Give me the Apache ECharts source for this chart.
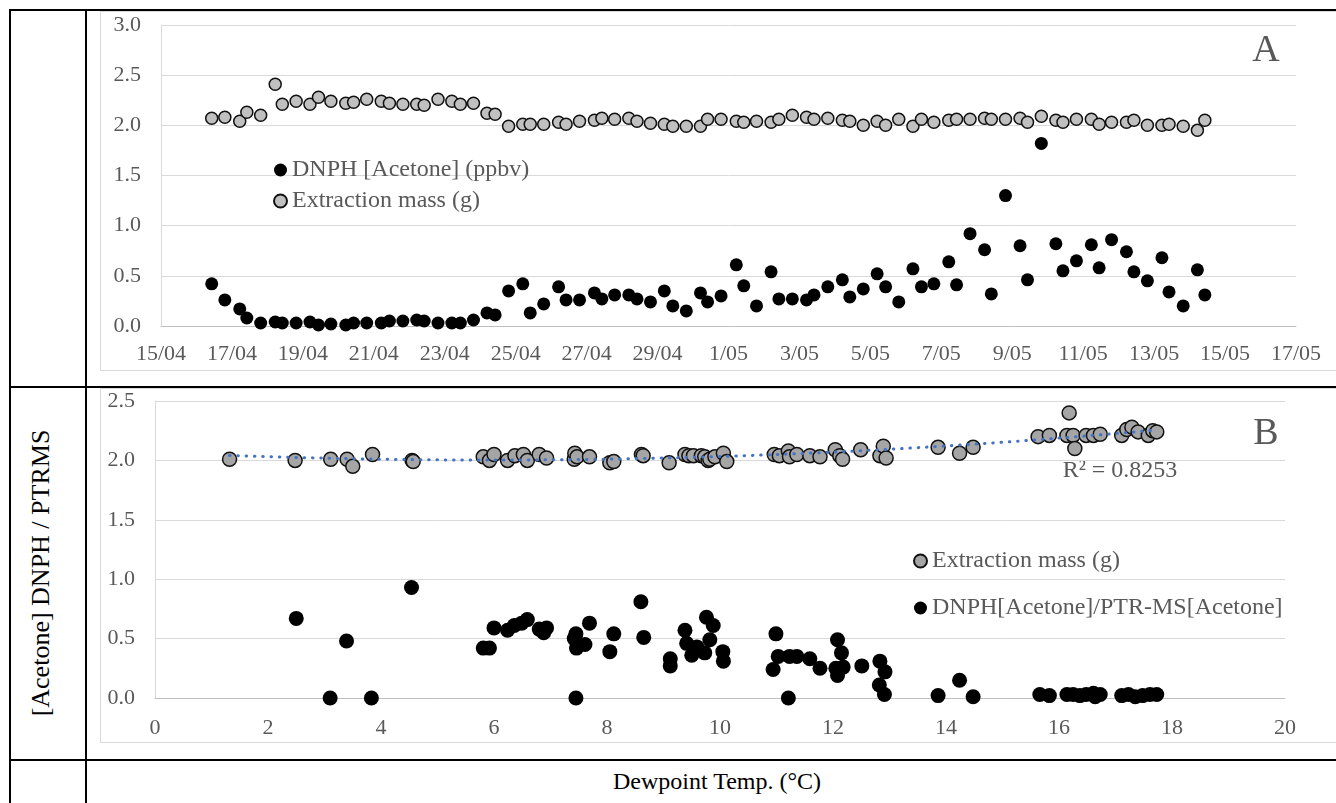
<!DOCTYPE html>
<html><head><meta charset="utf-8">
<script src="https://cdn.jsdelivr.net/npm/echarts@6/dist/echarts.min.js"></script>
<style>
html,body{margin:0;padding:0;width:1336px;height:803px;overflow:hidden;background:#fff;font-family:'Liberation Serif',serif;}
.ln{position:absolute;background:#000;}
.box{position:absolute;border:1px solid #d9d9d9;box-sizing:border-box;}
.chart{position:absolute;}
#ylab{position:absolute;left:41px;top:573px;transform:translate(-50%,-50%) rotate(-90deg);white-space:nowrap;font-size:26px;color:#000;}
#xlab{position:absolute;left:717px;top:781px;transform:translate(-50%,-50%);white-space:nowrap;font-size:24px;color:#000;}
</style></head><body>
<div class="box" style="left:100px;top:11px;width:1240px;height:360px"></div>
<div class="box" style="left:100px;top:388px;width:1240px;height:355px"></div>
<div id="chartA" class="chart" style="left:100px;top:11px;width:1236px;height:360px"></div>
<div id="chartB" class="chart" style="left:100px;top:388px;width:1236px;height:355px"></div>
<div class="ln" style="left:9px;top:9px;width:1327px;height:2px"></div>
<div class="ln" style="left:9px;top:386px;width:1327px;height:2px"></div>
<div class="ln" style="left:9px;top:759px;width:1327px;height:2px"></div>
<div class="ln" style="left:9px;top:9px;width:2px;height:794px"></div>
<div class="ln" style="left:85px;top:9px;width:2px;height:794px"></div>
<div id="ylab">[Acetone] DNPH / PTRMS</div>
<div id="xlab">Dewpoint Temp. (°C)</div>
<script>
// ---------- Panel A: time series (x = days since 15/04) ----------
const dateTicks = ['15/04','17/04','19/04','21/04','23/04','25/04','27/04','29/04','1/05','3/05','5/05','7/05','9/05','11/05','13/05','15/05','17/05'];
const sampleDay = [1.43,1.80,2.22,2.42,2.81,3.22,3.42,3.81,4.20,4.44,4.79,5.21,5.43,5.80,6.21,6.44,6.82,7.21,7.42,7.81,8.20,8.44,8.81,9.19,9.42,9.80,10.20,10.41,10.79,11.21,11.42,11.80,12.22,12.43,12.79,13.19,13.42,13.80,14.19,14.43,14.81,15.21,15.41,15.79,16.22,16.43,16.79,17.20,17.42,17.80,18.20,18.41,18.80,19.21,19.42,19.80,20.19,20.43,20.80,21.20,21.44,21.79,22.21,22.43,22.81,23.22,23.41,23.81,24.22,24.43,24.82,25.23,25.43,25.81,26.23,26.45,26.80,27.22,27.43,27.81,28.22,28.42,28.82,29.22,29.43];
const dnphAcetone = [0.42,0.26,0.17,0.08,0.03,0.04,0.03,0.03,0.04,0.01,0.02,0.01,0.03,0.03,0.03,0.05,0.05,0.06,0.05,0.03,0.03,0.03,0.06,0.13,0.11,0.35,0.42,0.13,0.22,0.39,0.26,0.26,0.33,0.27,0.31,0.31,0.27,0.24,0.35,0.20,0.15,0.33,0.24,0.30,0.61,0.40,0.20,0.54,0.27,0.27,0.26,0.31,0.39,0.46,0.29,0.37,0.52,0.39,0.24,0.57,0.39,0.42,0.64,0.41,0.92,0.76,0.32,1.30,0.80,0.46,1.82,0.82,0.55,0.65,0.81,0.58,0.86,0.74,0.54,0.45,0.68,0.34,0.20,0.56,0.31];
const extractionMassA = [2.07,2.08,2.04,2.13,2.10,2.41,2.21,2.24,2.21,2.28,2.24,2.22,2.23,2.26,2.24,2.22,2.21,2.21,2.20,2.26,2.24,2.21,2.22,2.12,2.11,1.99,2.01,2.01,2.01,2.03,2.01,2.04,2.05,2.07,2.06,2.07,2.04,2.02,2.01,1.99,1.99,1.99,2.06,2.06,2.04,2.03,2.04,2.03,2.06,2.10,2.08,2.06,2.07,2.05,2.04,2.00,2.04,2.00,2.06,1.99,2.06,2.03,2.05,2.06,2.06,2.07,2.06,2.06,2.07,2.03,2.09,2.05,2.03,2.06,2.06,2.01,2.03,2.03,2.05,2.00,2.00,2.01,1.99,1.95,2.05];

// ---------- Panel B: versus dewpoint temperature ----------
const dewpointMass = [1.32,2.48,3.11,3.40,3.50,3.85,4.55,4.57,5.81,5.92,6.00,6.24,6.37,6.52,6.59,6.80,6.93,7.42,7.43,7.47,7.69,8.05,8.12,8.61,8.64,9.10,9.38,9.45,9.53,9.67,9.73,9.79,9.82,9.91,10.06,10.12,10.96,11.05,11.21,11.23,11.36,11.59,11.77,12.04,12.12,12.17,12.49,12.83,12.89,12.94,13.86,14.24,14.48,15.63,15.83,16.14,16.18,16.25,16.28,16.48,16.61,16.73,17.11,17.20,17.29,17.40,17.58,17.66,17.73];
const extractionMassB = [2.01,2.00,2.01,2.01,1.95,2.05,2.00,1.99,2.03,2.00,2.05,2.00,2.04,2.05,2.00,2.05,2.02,2.01,2.06,2.03,2.03,1.98,1.99,2.05,2.04,1.98,2.05,2.04,2.04,2.04,2.03,2.00,2.01,2.03,2.06,1.99,2.05,2.04,2.08,2.03,2.05,2.04,2.03,2.09,2.04,2.01,2.09,2.04,2.12,2.02,2.11,2.06,2.11,2.20,2.21,2.21,2.40,2.21,2.10,2.21,2.21,2.22,2.21,2.26,2.28,2.24,2.21,2.25,2.24];
const dewpointRatio = [2.50,3.10,3.39,3.83,4.54,5.81,5.92,6.00,6.24,6.36,6.49,6.59,6.80,6.88,6.93,7.42,7.45,7.46,7.61,7.45,7.69,8.05,8.12,8.60,8.65,9.12,9.12,9.38,9.41,9.50,9.59,9.73,9.76,9.82,9.88,10.05,10.06,10.94,10.99,11.03,11.21,11.23,11.36,11.59,11.77,12.05,12.08,12.08,12.15,12.18,12.51,12.83,12.92,12.82,12.91,13.86,14.24,14.48,15.66,15.83,16.14,16.25,16.37,16.48,16.61,16.64,16.73,17.11,17.23,17.35,17.48,17.61,17.73];
const ratioValues = [0.67,0.00,0.48,0.00,0.93,0.42,0.42,0.59,0.57,0.61,0.63,0.66,0.58,0.55,0.59,0.50,0.54,0.42,0.45,0.00,0.63,0.39,0.54,0.81,0.51,0.33,0.27,0.57,0.46,0.36,0.43,0.38,0.68,0.49,0.61,0.39,0.31,0.24,0.54,0.35,0.00,0.35,0.35,0.33,0.25,0.25,0.49,0.19,0.38,0.26,0.27,0.31,0.22,0.11,0.03,0.02,0.15,0.01,0.03,0.02,0.03,0.03,0.02,0.03,0.04,0.01,0.03,0.02,0.03,0.01,0.02,0.03,0.03];
const r2Label = 'R² = 0.8253';

const serif = 'Liberation Serif';
const labelGray = '#595959';
const gridGray = '#d9d9d9';
const axisGray = '#bfbfbf';

function pairs(xs, ys) { return xs.map((x, i) => [x, ys[i]]); }

// second-order polynomial least-squares trendline of extraction mass vs dewpoint
function quadFit(xs, ys) {
  const S = [0,0,0,0,0], T = [0,0,0];
  xs.forEach((x, i) => {
    let p = 1;
    for (let k = 0; k < 5; k++) { S[k] += p; if (k < 3) T[k] += p * ys[i]; p *= x; }
  });
  const M = [[S[0],S[1],S[2],T[0]],[S[1],S[2],S[3],T[1]],[S[2],S[3],S[4],T[2]]];
  for (let c = 0; c < 3; c++) {
    for (let r = c + 1; r < 3; r++) {
      const f = M[r][c] / M[c][c];
      for (let k = c; k < 4; k++) M[r][k] -= f * M[c][k];
    }
  }
  const b = [0,0,0];
  for (let r = 2; r >= 0; r--) {
    let s = M[r][3];
    for (let k = r + 1; k < 3; k++) s -= M[r][k] * b[k];
    b[r] = s / M[r][r];
  }
  return b;
}
const coef = quadFit(dewpointMass, extractionMassB);
const xMin = Math.min(...dewpointMass), xMax = Math.max(...dewpointMass);
const trend = [];
for (let i = 0; i <= 80; i++) {
  const x = xMin + (xMax - xMin) * i / 80;
  trend.push([x, coef[0] + coef[1] * x + coef[2] * x * x]);
}

const chartA = echarts.init(document.getElementById('chartA'), null, {renderer: 'canvas'});
chartA.setOption({
  animation: false,
  textStyle: {fontFamily: serif},
  grid: {left: 61, top: 14, right: 40, bottom: 45},
  xAxis: {
    type: 'value', min: 0, max: 32, interval: 2,
    axisLine: {lineStyle: {color: axisGray, width: 1}},
    axisTick: {show: false}, splitLine: {show: false},
    axisLabel: {color: labelGray, fontSize: 22, fontFamily: serif, margin: 17,
      formatter: v => dateTicks[Math.round(v / 2)]}
  },
  yAxis: {
    type: 'value', min: 0, max: 3, interval: 0.5,
    axisLine: {show: true, lineStyle: {color: gridGray}},
    axisTick: {show: false},
    splitLine: {lineStyle: {color: gridGray, width: 1}},
    axisLabel: {color: labelGray, fontSize: 22, fontFamily: serif, margin: 20, formatter: v => v.toFixed(1)}
  },
  legend: {
    orient: 'vertical', left: 168, top: 142, itemWidth: 13, itemHeight: 13, itemGap: 7,
    icon: 'circle', selectedMode: false,
    textStyle: {color: labelGray, fontSize: 24, fontFamily: serif},
    data: ['DNPH [Acetone] (ppbv)', 'Extraction mass (g)']
  },
  graphic: [{type: 'text', x: 1166, y: 40,
    style: {text: 'A', fontSize: 38, fontFamily: serif, fill: labelGray, align: 'center', verticalAlign: 'middle'}}],
  series: [
    {name: 'DNPH [Acetone] (ppbv)', type: 'scatter', symbolSize: 13,
     itemStyle: {color: '#000', opacity: 1}, data: pairs(sampleDay, dnphAcetone)},
    {name: 'Extraction mass (g)', type: 'scatter', symbolSize: 12,
     itemStyle: {color: '#c0c0c0', borderColor: '#111', borderWidth: 1.5, opacity: 1}, data: pairs(sampleDay, extractionMassA)}
  ]
});

const chartB = echarts.init(document.getElementById('chartB'), null, {renderer: 'canvas'});
chartB.setOption({
  animation: false,
  textStyle: {fontFamily: serif},
  grid: {left: 55, top: 13, right: 51, bottom: 45},
  xAxis: {
    type: 'value', min: 0, max: 20, interval: 2,
    axisLine: {lineStyle: {color: axisGray, width: 1}},
    axisTick: {show: false}, splitLine: {show: false},
    axisLabel: {color: labelGray, fontSize: 22, fontFamily: serif, margin: 19}
  },
  yAxis: {
    type: 'value', min: 0, max: 2.5, interval: 0.5,
    axisLine: {show: true, lineStyle: {color: gridGray}},
    axisTick: {show: false},
    splitLine: {lineStyle: {color: gridGray, width: 1}},
    axisLabel: {color: labelGray, fontSize: 22, fontFamily: serif, margin: 20, formatter: v => v.toFixed(1)}
  },
  legend: {
    orient: 'vertical', left: 808, top: 156, itemWidth: 13, itemHeight: 13, itemGap: 23,
    icon: 'circle', selectedMode: false,
    textStyle: {color: labelGray, fontSize: 24, fontFamily: serif},
    data: ['Extraction mass (g)', 'DNPH[Acetone]/PTR-MS[Acetone]']
  },
  graphic: [
    {type: 'text', x: 1166, y: 46,
     style: {text: 'B', fontSize: 38, fontFamily: serif, fill: labelGray, align: 'center', verticalAlign: 'middle'}},
    {type: 'text', x: 1020, y: 83,
     style: {text: r2Label, fontSize: 24, fontFamily: serif, fill: labelGray, align: 'center', verticalAlign: 'middle'}}
  ],
  series: [
    {name: 'Extraction mass (g)', type: 'scatter', symbolSize: 14,
     itemStyle: {color: '#a5a5a5', borderColor: '#111', borderWidth: 1.5, opacity: 1}, data: pairs(dewpointMass, extractionMassB)},
    {name: 'DNPH[Acetone]/PTR-MS[Acetone]', type: 'scatter', symbolSize: 15,
     itemStyle: {color: '#000', opacity: 1}, data: pairs(dewpointRatio, ratioValues)},
    {name: 'trend', type: 'line', showSymbol: false, silent: true, z: 5, smooth: false,
     lineStyle: {color: '#4472c4', width: 3, type: [0.5, 7.8], cap: 'round'}, data: trend}
  ]
});
</script>
</body></html>
